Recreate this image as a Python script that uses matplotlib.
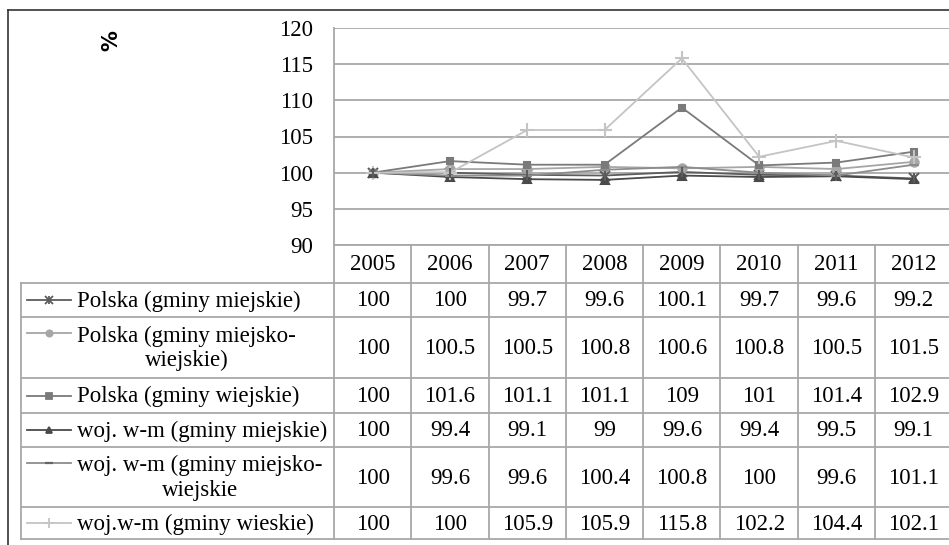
import matplotlib.pyplot as plt
import matplotlib.lines as mlines

years = ["2005", "2006", "2007", "2008", "2009", "2010", "2011", "2012"]
labels = [
    "Polska (gminy miejskie)",
    "Polska (gminy miejsko-\nwiejskie)",
    "Polska (gminy wiejskie)",
    "woj. w-m (gminy miejskie)",
    "woj. w-m (gminy miejsko-\nwiejskie",
    "woj.w-m (gminy wieskie)",
]
polska_miejskie = [100, 100, 99.7, 99.6, 100.1, 99.7, 99.6, 99.2]
polska_miejsko_wiejskie = [100, 100.5, 100.5, 100.8, 100.6, 100.8, 100.5, 101.5]
polska_wiejskie = [100, 101.6, 101.1, 101.1, 109, 101, 101.4, 102.9]
wm_miejskie = [100, 99.4, 99.1, 99, 99.6, 99.4, 99.5, 99.1]
wm_miejsko_wiejskie = [100, 99.6, 99.6, 100.4, 100.8, 100, 99.6, 101.1]
wm_wiejskie = [100, 100, 105.9, 105.9, 115.8, 102.2, 104.4, 102.1]

series = [polska_miejskie, polska_miejsko_wiejskie, polska_wiejskie,
          wm_miejskie, wm_miejsko_wiejskie, wm_wiejskie]
colors = ["#5c5c5c", "#a6a6a6", "#7a7a7a", "#4a4a4a", "#8c8c8c", "#c4c4c4"]
markers = ["x", "o", "s", "^", "_", "+"]
msizes = [7, 6, 5, 6, 7, 10]

W, H = 949, 545
plt.rcParams['font.family'] = ['Liberation Serif', 'DejaVu Serif']
fs = 16.5
grid_c = "#a8a8a8"

fig = plt.figure(figsize=(W / 100, H / 100), dpi=100)

# pixel-space axes for frame and data table
tab = fig.add_axes([0, 0, 1, 1])
tab.set_xlim(0, W)
tab.set_ylim(H, 0)
tab.axis("off")

x0, cw = 334, 77.3
y_head, y_plot_top = 245, 28
row_edges = [283, 317, 378, 413, 447, 507, 539]
leg_left = 21

# chart axes, placed to line up with table columns
x1 = x0 + cw * len(years)
ax = fig.add_axes([x0 / W, 1 - y_head / H, (x1 - x0) / W, (y_head - y_plot_top) / H])
ax.patch.set_alpha(0)
ax.set_xlim(-0.5, len(years) - 0.5)
ax.set_ylim(90, 120)
ax.set_yticks(range(90, 121, 5))
ax.set_xticks([])
ax.grid(axis="y", color=grid_c, lw=1.3)
ax.set_axisbelow(True)
for s in ["top", "right", "bottom"]:
    ax.spines[s].set_visible(False)
ax.spines["left"].set_color(grid_c)
ax.spines["left"].set_linewidth(1.3)
ax.tick_params(axis="y", length=0, pad=15, labelsize=fs)

xs = range(len(years))
for vals, c, m, ms in zip(series, colors, markers, msizes):
    ax.plot(xs, vals, color=c, lw=1.3, marker=m, ms=ms, mew=1.5,
            mfc=c, mec=c, clip_on=False)
# star marker: add vertical stroke to the x
ax.plot(xs, polska_miejskie, ls="none", marker="|", ms=7, mew=1.5, color=colors[0])

fig.text(111 / W, 1 - 41 / H, "%", rotation=90, fontsize=15, fontweight="bold",
         family="DejaVu Sans", ha="center", va="center")

# outer frame
tab.plot([8, W], [10, 10], color="#333333", lw=1.2)
tab.plot([8, 8], [10, H], color="#333333", lw=1.2)

# table grid
lw = 1.3
tab.plot([x0, W], [y_head, y_head], color=grid_c, lw=lw)
for i in range(len(years) + 1):
    tab.plot([x0 + cw * i] * 2, [y_head, row_edges[-1]], color=grid_c, lw=lw)
for y in row_edges:
    tab.plot([leg_left, W], [y, y], color=grid_c, lw=lw)
tab.plot([leg_left, leg_left], [row_edges[0], row_edges[-1]], color=grid_c, lw=lw)

for i, yr in enumerate(years):
    tab.text(x0 + cw * (i + 0.5), (y_head + row_edges[0]) / 2 + 1, yr,
             ha="center", va="center", fontsize=fs)

for r, (lab, vals, c, m, ms) in enumerate(zip(labels, series, colors, markers, msizes)):
    yc = (row_edges[r] + row_edges[r + 1]) / 2 + 1
    ly = row_edges[r] + 16 if "\n" in lab else yc - 1
    tab.add_line(mlines.Line2D([27, 71], [ly, ly], color=c, lw=1.3))
    tab.plot([49], [ly], marker=m, ms=ms * 0.75, mew=1.6 if m == "_" else 1.3,
             color=c if m != "_" else "#666666")
    if r == 0:
        tab.plot([49], [ly], marker="|", ms=ms * 0.75, mew=1.3, color=c)
    tab.text(77, yc, lab, ha="left", va="center", fontsize=fs,
             multialignment="center", linespacing=1.2)
    for i, v in enumerate(vals):
        tab.text(x0 + cw * (i + 0.5), yc, f"{v:g}", ha="center", va="center",
                 fontsize=fs)

fig.savefig("out.png", dpi=100)
